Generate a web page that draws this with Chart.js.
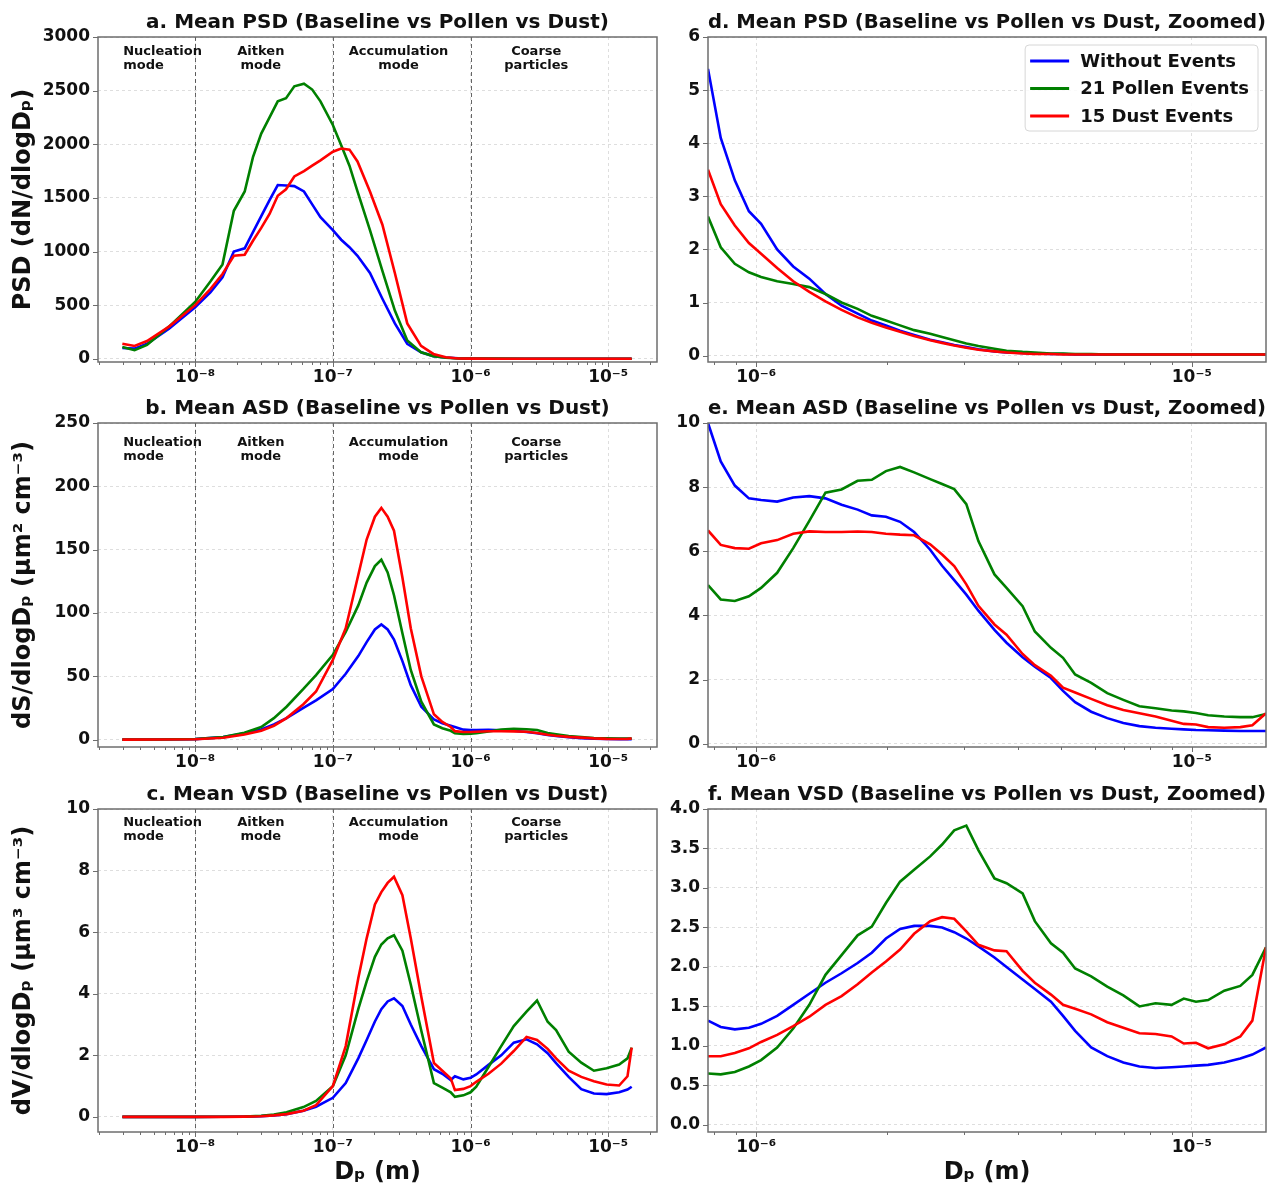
<!DOCTYPE html>
<html>
<head>
<meta charset="utf-8">
<script src="https://cdn.jsdelivr.net/npm/chart.js@4.4.1/dist/chart.umd.min.js"></script>
<style>
  body { margin: 0; background: #fff; }
  #quadro { position: relative; width: 1271px; height: 1187px; overflow: hidden; }
  #quadro canvas { position: absolute; }
</style>
</head>
<body>
<div id="quadro">
  <canvas id="graficoPsd" width="660" height="392" style="left:0;top:0"></canvas>
  <canvas id="graficoPsdZoom" width="611" height="392" style="left:660px;top:0"></canvas>
  <canvas id="graficoAsd" width="660" height="392" style="left:0;top:386px"></canvas>
  <canvas id="graficoAsdZoom" width="611" height="392" style="left:660px;top:386px"></canvas>
  <canvas id="graficoVsd" width="660" height="415" style="left:0;top:772px"></canvas>
  <canvas id="graficoVsdZoom" width="611" height="415" style="left:660px;top:772px"></canvas>
</div>
<script>
const FONTE = "'DejaVu Sans', sans-serif";
Chart.defaults.font.family = FONTE;
Chart.defaults.color = "#000";

const nomesSeries = ["Without Events", "21 Pollen Events", "15 Dust Events"];
const coresSeries = ["#0000ff", "#008000", "#ff0000"];

const expoentes = [-8, -7, -6, -5];
const rotulosDecadas = ["10⁻⁸", "10⁻⁷", "10⁻⁶", "10⁻⁵"];

const modos = [["Nucleation", "mode"], ["Aitken", "mode"], ["Accumulation", "mode"], ["Coarse", "particles"]];
const modosX = [3e-9, 3e-8, 3e-7, 3e-6];
const alinhamentoModos = ["left", "center", "center", "center"];
const limitesModos = [1e-8, 1e-7, 1e-6];

// diametros (m) do painel a
const dpPsd = [
  2.96e-9, 3.63e-9, 4.47e-9, 6.46e-9, 1.0e-8, 1.29e-8, 1.58e-8, 1.91e-8, 2.29e-8, 2.63e-8,
  3.02e-8, 3.47e-8, 3.98e-8, 4.57e-8, 5.25e-8, 6.17e-8, 7.08e-8, 8.13e-8, 1.0e-7, 1.15e-7,
  1.32e-7, 1.51e-7, 1.86e-7, 2.29e-7, 2.82e-7, 3.47e-7, 4.37e-7, 5.37e-7, 6.61e-7, 8.13e-7,
  1.0e-6, 1.58e-6, 2.51e-6, 3.98e-6, 6.31e-6, 1.0e-5, 1.48e-5,
];
const psdSem = [
  100, 95, 140, 280, 480, 620, 760, 1000, 1030, 1180,
  1330, 1480, 1620, 1615, 1610, 1560, 1440, 1320, 1200, 1110,
  1040, 960, 800, 560, 330, 140, 60, 25, 12, 4.5,
  2.5, 0.9, 0.3, 0.06, 0.02, 0.02, 0.02,
];
const psdPolen = [
  110, 80, 130, 300, 530, 720, 880, 1380, 1560, 1880,
  2100, 2250, 2400, 2430, 2540, 2565, 2510, 2400, 2180, 1990,
  1800, 1560, 1200, 820, 450, 170, 60, 25, 10, 2.2,
  1.5, 1.0, 0.45, 0.1, 0.03, 0.02, 0.02,
];
const psdPoeira = [
  140, 120, 165, 300, 500, 650, 790, 960, 970, 1100,
  1220, 1350, 1520, 1580, 1700, 1750, 1800, 1850, 1930, 1960,
  1950, 1840, 1560, 1250, 800, 330, 120, 45, 15, 3.0,
  1.9, 0.85, 0.3, 0.06, 0.02, 0.02, 0.02,
];

// diametros (m) dos paineis b e c
const dpTotal = [
  2.96e-9, 5.57e-9, 1.0e-8, 1.6e-8, 2.28e-8, 3.02e-8, 3.73e-8, 4.61e-8, 6.11e-8, 7.55e-8,
  1.0e-7, 1.24e-7, 1.53e-7, 1.76e-7, 2.02e-7, 2.25e-7, 2.5e-7, 2.78e-7, 3.2e-7, 3.68e-7,
  4.39e-7, 5.42e-7, 6.24e-7, 7.18e-7, 7.7e-7, 8.87e-7, 1.0e-6, 1.1e-6, 1.35e-6, 1.67e-6,
  2.06e-6, 2.55e-6, 3.04e-6, 3.63e-6, 4.18e-6, 5.16e-6, 6.37e-6, 7.87e-6, 9.73e-6, 1.2e-5,
  1.38e-5, 1.48e-5,
];
const asdSem = [
  0, 0.1, 0.4, 2, 5, 8, 12, 17, 25, 31,
  40, 52, 66, 77, 87, 91, 87, 79, 62, 43,
  26, 16, 13, 11, 10, 7.9, 7.6, 7.6, 7.7, 7.4,
  7.0, 6.1, 5.0, 3.8, 3.0, 2.0, 1.2, 0.7, 0.5, 0.45,
  0.42, 0.42,
];
const asdPolen = [
  0, 0.1, 0.5, 2, 5.5, 10, 17, 26, 40, 51,
  67, 85, 106, 124, 137, 142, 132, 114, 84, 55,
  30, 12, 9, 7, 5, 4.5, 4.7, 5.0, 6.5, 8.0,
  8.6, 8.2, 7.6, 5.2, 4.3, 2.8, 2.0, 1.3, 1.05, 0.9,
  0.85, 0.9,
];
const asdPoeira = [
  0, 0.1, 0.3, 1.5, 4, 7, 11, 17, 28, 38,
  63, 88, 130, 158, 176, 183, 176, 165, 128, 88,
  50, 20, 14, 10, 6.7, 6.1, 6.1, 6.3, 6.6, 6.6,
  6.5, 6.3, 5.2, 3.9, 3.1, 2.2, 1.6, 1.0, 0.65, 0.55,
  0.6, 0.95,
];
const vsdSem = [
  0, 0, 0, 0.003, 0.01, 0.025, 0.05, 0.09, 0.2, 0.33,
  0.62, 1.1, 1.9, 2.5, 3.1, 3.5, 3.75, 3.85, 3.6, 3.0,
  2.3, 1.55, 1.4, 1.2, 1.32, 1.22, 1.27, 1.38, 1.69, 2.0,
  2.41, 2.52, 2.36, 2.07, 1.75, 1.3, 0.9, 0.76, 0.74, 0.8,
  0.89, 0.98,
];
const vsdPolen = [
  0, 0, 0, 0.003, 0.015, 0.04, 0.08, 0.15, 0.32, 0.52,
  1.0, 2.0, 3.5, 4.4, 5.2, 5.6, 5.8, 5.9, 5.4, 4.3,
  2.8, 1.1, 0.95, 0.8, 0.65, 0.7, 0.8, 0.98, 1.62, 2.3,
  2.95, 3.42, 3.78, 3.09, 2.82, 2.12, 1.76, 1.5, 1.58, 1.7,
  1.9, 2.25,
];
const vsdPoeira = [
  0, 0, 0, 0.002, 0.01, 0.02, 0.05, 0.09, 0.2, 0.38,
  1.0, 2.3, 4.5, 5.8, 6.9, 7.3, 7.6, 7.8, 7.2, 5.8,
  3.9, 1.75, 1.5, 1.25, 0.87, 0.91, 1.0, 1.14, 1.4, 1.73,
  2.14, 2.6, 2.5, 2.21, 1.9, 1.5, 1.3, 1.16, 1.05, 1.02,
  1.32, 2.25,
];

// diametros (m) dos paineis com zoom (d, e, f)
const dpZoom = [
  7.75e-7, 8.29e-7, 8.93e-7, 9.62e-7, 1.026e-6, 1.117e-6, 1.216e-6, 1.324e-6, 1.442e-6, 1.57e-6,
  1.709e-6, 1.842e-6, 1.985e-6, 2.139e-6, 2.304e-6, 2.508e-6, 2.671e-6, 2.848e-6, 3.036e-6, 3.236e-6,
  3.523e-6, 3.755e-6, 4.088e-6, 4.361e-6, 4.749e-6, 5.062e-6, 5.396e-6, 5.874e-6, 6.395e-6, 6.962e-6,
  7.58e-6, 8.253e-6, 8.986e-6, 9.583e-6, 1.022e-5, 1.09e-5, 1.187e-5, 1.292e-5, 1.377e-5, 1.48e-5,
];
const psdZoomSem = [
  5.4, 4.1, 3.3, 2.72, 2.48, 2.0, 1.68, 1.45, 1.16, 0.94,
  0.79, 0.66, 0.57, 0.47, 0.39, 0.3, 0.25, 0.2, 0.16, 0.12,
  0.08, 0.06, 0.05, 0.04, 0.03, 0.03, 0.02, 0.02, 0.02, 0.02,
  0.02, 0.02, 0.02, 0.02, 0.02, 0.02, 0.02, 0.02, 0.02, 0.02,
];
const psdZoomPolen = [
  2.62, 2.04, 1.73, 1.57, 1.48, 1.4, 1.35, 1.29, 1.16, 1.0,
  0.88, 0.75, 0.66, 0.57, 0.48, 0.41, 0.35, 0.29, 0.23, 0.18,
  0.13, 0.09, 0.07, 0.06, 0.04, 0.04, 0.03, 0.03, 0.02, 0.02,
  0.02, 0.02, 0.02, 0.02, 0.02, 0.02, 0.02, 0.02, 0.02, 0.02,
];
const psdZoomPoeira = [
  3.5, 2.85, 2.45, 2.12, 1.92, 1.65, 1.4, 1.2, 1.02, 0.86,
  0.72, 0.62, 0.53, 0.45, 0.37, 0.29, 0.24, 0.19, 0.15, 0.11,
  0.08, 0.06, 0.04, 0.03, 0.03, 0.02, 0.02, 0.02, 0.02, 0.02,
  0.02, 0.02, 0.02, 0.02, 0.02, 0.02, 0.02, 0.02, 0.02, 0.02,
];
const asdZoomSem = [
  10.0, 8.8, 8.05, 7.65, 7.6, 7.55, 7.68, 7.72, 7.65, 7.45,
  7.3, 7.12, 7.08, 6.92, 6.6, 6.05, 5.55, 5.1, 4.65, 4.15,
  3.55, 3.15, 2.7, 2.4, 2.05, 1.65, 1.3, 1.0, 0.8, 0.65,
  0.55, 0.5, 0.47, 0.45, 0.43, 0.42, 0.41, 0.4, 0.4, 0.4,
];
const asdZoomPolen = [
  4.95, 4.5, 4.45, 4.6, 4.86, 5.33, 6.1, 6.95, 7.83, 7.93,
  8.2, 8.23, 8.5, 8.63, 8.46, 8.25, 8.1, 7.94, 7.47, 6.32,
  5.28, 4.86, 4.29, 3.5, 2.99, 2.68, 2.16, 1.9, 1.58, 1.37,
  1.17, 1.11, 1.04, 1.01, 0.96, 0.89, 0.85, 0.83, 0.83, 0.93,
];
const asdZoomPoeira = [
  6.65, 6.2, 6.1, 6.08, 6.25, 6.35, 6.55, 6.62, 6.6, 6.6,
  6.62, 6.6, 6.55, 6.52, 6.5, 6.22, 5.9, 5.54, 4.97, 4.3,
  3.72, 3.4, 2.8, 2.45, 2.12, 1.75, 1.6, 1.4, 1.2, 1.05,
  0.95, 0.85, 0.72, 0.62, 0.6, 0.52, 0.5, 0.52, 0.58, 0.95,
];
const vsdZoomSem = [
  1.32, 1.24, 1.21, 1.23, 1.28, 1.38, 1.52, 1.66, 1.8, 1.92,
  2.05, 2.18, 2.36, 2.48, 2.52, 2.52, 2.5, 2.44, 2.36, 2.26,
  2.12, 2.0, 1.84, 1.72, 1.56, 1.38, 1.19, 0.98, 0.87, 0.79,
  0.74, 0.72, 0.73, 0.74, 0.75, 0.76, 0.79, 0.84, 0.89, 0.98,
];
const vsdZoomPolen = [
  0.65, 0.64, 0.67, 0.74, 0.82, 0.98, 1.22, 1.52, 1.9, 2.15,
  2.4, 2.51, 2.81, 3.08, 3.23, 3.4, 3.55, 3.73, 3.79, 3.48,
  3.12, 3.06, 2.93, 2.58, 2.3, 2.18, 1.98, 1.88, 1.75, 1.64,
  1.5, 1.54, 1.52, 1.6, 1.56, 1.58, 1.7, 1.76, 1.9, 2.25,
];
const vsdZoomPoeira = [
  0.87, 0.87, 0.91, 0.97, 1.05, 1.14, 1.25, 1.37, 1.52, 1.63,
  1.78, 1.93, 2.07, 2.22, 2.42, 2.58, 2.63, 2.61, 2.45, 2.28,
  2.21, 2.2, 1.95, 1.8, 1.65, 1.52, 1.47, 1.4, 1.3, 1.23,
  1.16, 1.15, 1.12, 1.03, 1.04, 0.97, 1.02, 1.12, 1.32, 2.25,
];

const ticksPsd = [0, 500, 1000, 1500, 2000, 2500, 3000];
const ticksAsd = [0, 50, 100, 150, 200, 250];
const ticksVsd = [0, 2, 4, 6, 8, 10];
const ticksPsdZoom = [0, 1, 2, 3, 4, 5, 6];
const ticksAsdZoom = [0, 2, 4, 6, 8, 10];
const ticksVsdZoom = [0, 0.5, 1, 1.5, 2, 2.5, 3, 3.5, 4];

const COR_GRADE = "rgba(0,0,0,0.13)";
const COR_EIXO = "#6e6e6e";

function ehDecada(v) {
  const l = Math.log10(v);
  return Math.abs(l - Math.round(l)) < 1e-6;
}

function ticksLog(min, max) {
  const ticks = [];
  for (let e = Math.floor(Math.log10(min)); e <= Math.ceil(Math.log10(max)); e++) {
    for (let m = 1; m <= 9; m++) {
      const v = m * Math.pow(10, e);
      if (v >= min && v <= max) ticks.push({ value: v, major: m === 1 });
    }
  }
  return ticks;
}

function rotuloDecada(v) {
  if (!ehDecada(v)) return "";
  const i = expoentes.indexOf(Math.round(Math.log10(v)));
  return i >= 0 ? rotulosDecadas[i] : "";
}

const decorPlugin = {
  id: "decor",
  beforeDatasetsDraw(chart, args, opts) {
    if (!opts.modos) return;
    const { ctx, chartArea: a, scales: { x } } = chart;
    ctx.save();
    ctx.strokeStyle = "rgba(0,0,0,0.6)";
    ctx.lineWidth = 1;
    ctx.setLineDash([4, 3]);
    limitesModos.forEach((b) => {
      const px = Math.round(x.getPixelForValue(b)) + 0.5;
      ctx.beginPath();
      ctx.moveTo(px, a.top);
      ctx.lineTo(px, a.bottom);
      ctx.stroke();
    });
    ctx.restore();
  },
  afterDraw(chart, args, opts) {
    const { ctx, chartArea: a, scales: { x, y } } = chart;
    ctx.save();

    // marcas dos eixos
    ctx.strokeStyle = COR_EIXO;
    ctx.lineWidth = 1;
    x.ticks.forEach((t) => {
      const px = Math.round(x.getPixelForValue(t.value)) + 0.5;
      const len = ehDecada(t.value) ? 5 : 3;
      ctx.beginPath();
      ctx.moveTo(px, a.bottom);
      ctx.lineTo(px, a.bottom + len);
      ctx.stroke();
    });
    y.ticks.forEach((t) => {
      const py = Math.round(y.getPixelForValue(t.value)) + 0.5;
      ctx.beginPath();
      ctx.moveTo(a.left - 5, py);
      ctx.lineTo(a.left, py);
      ctx.stroke();
    });

    // moldura
    ctx.lineWidth = 1.5;
    ctx.strokeRect(a.left, a.top, a.right - a.left, a.bottom - a.top);

    if (opts.modos) {
      ctx.fillStyle = "#111";
      ctx.font = "bold 13px " + FONTE;
      ctx.textBaseline = "middle";
      modos.forEach((linhas, i) => {
        const px = x.getPixelForValue(modosX[i]);
        ctx.textAlign = alinhamentoModos[i];
        linhas.forEach((t, j) => ctx.fillText(t, px, a.top + opts.topoModos + j * 14));
      });
    }

    if (opts.legenda) {
      ctx.font = "bold 18px " + FONTE;
      const larg = 55 + Math.max(...nomesSeries.map((n) => ctx.measureText(n).width)) + 9;
      const alt = 86;
      const esq = a.right - 8 - larg;
      const topo = a.top + 8;
      const r = 4;
      ctx.beginPath();
      ctx.moveTo(esq + r, topo);
      ctx.arcTo(esq + larg, topo, esq + larg, topo + alt, r);
      ctx.arcTo(esq + larg, topo + alt, esq, topo + alt, r);
      ctx.arcTo(esq, topo + alt, esq, topo, r);
      ctx.arcTo(esq, topo, esq + larg, topo, r);
      ctx.closePath();
      ctx.fillStyle = "rgba(255,255,255,0.85)";
      ctx.fill();
      ctx.strokeStyle = "#d6d6d6";
      ctx.lineWidth = 1;
      ctx.stroke();
      ctx.textAlign = "left";
      ctx.textBaseline = "middle";
      nomesSeries.forEach((n, i) => {
        const yy = topo + 16 + i * 27.5;
        ctx.strokeStyle = coresSeries[i];
        ctx.lineWidth = 3;
        ctx.beginPath();
        ctx.moveTo(esq + 5, yy);
        ctx.lineTo(esq + 44, yy);
        ctx.stroke();
        ctx.fillStyle = "#111";
        ctx.fillText(n, esq + 55, yy + 1);
      });
    }
    ctx.restore();
  },
};
Chart.register(decorPlugin);

function criarPainel(id, cfg) {
  const datasets = cfg.valores.map((vals, i) => ({
    label: nomesSeries[i],
    data: vals.map((v, k) => ({ x: cfg.dp[k], y: v })),
    borderColor: coresSeries[i],
    backgroundColor: coresSeries[i],
    borderWidth: 2.6,
    pointRadius: 0,
    tension: 0,
    order: 3 - i,
  }));

  const fonteTick = { family: FONTE, size: 17, weight: "bold" };
  const fonteTitulo = { family: FONTE, size: 24, weight: "bold", lineHeight: 1.2 };

  return new Chart(document.getElementById(id), {
    type: "line",
    data: { datasets },
    options: {
      responsive: false,
      devicePixelRatio: 1,
      animation: false,
      events: [],
      layout: { padding: { left: 0, right: cfg.folgaDireita, top: 0, bottom: 0 } },
      plugins: {
        legend: { display: false },
        tooltip: { enabled: false },
        title: {
          display: true,
          text: cfg.titulo,
          fullSize: false,
          color: "#111",
          font: { family: FONTE, size: 20, weight: "bold", lineHeight: 1.2 },
          padding: { top: 11, bottom: 2 },
        },
        decor: { modos: !!cfg.modos, topoModos: cfg.topoModos, legenda: !!cfg.legenda },
      },
      scales: {
        x: {
          type: "logarithmic",
          bounds: "data",
          min: cfg.xMin,
          max: cfg.xMax,
          afterBuildTicks: (s) => { s.ticks = ticksLog(s.min, s.max); },
          afterFit: (s) => { s.height = cfg.alturaX; },
          ticks: {
            autoSkip: false,
            maxRotation: 0,
            minRotation: 0,
            padding: 5,
            color: "#111",
            font: fonteTick,
            callback: (v) => rotuloDecada(v),
          },
          grid: {
            drawTicks: false,
            lineWidth: 1,
            color: (c) => (c.tick && ehDecada(c.tick.value) ? COR_GRADE : "rgba(0,0,0,0)"),
          },
          border: { display: false, dash: [3, 3] },
          title: {
            display: !!cfg.tituloX,
            text: cfg.tituloX || "",
            color: "#111",
            font: fonteTitulo,
            padding: { top: 0, bottom: 0 },
          },
        },
        y: {
          type: "linear",
          min: cfg.yMin,
          max: cfg.yMax,
          afterBuildTicks: (s) => { s.ticks = cfg.ticksY.map((v) => ({ value: v })); },
          afterFit: (s) => { s.width = cfg.larguraY; },
          ticks: {
            padding: 8,
            color: "#111",
            font: fonteTick,
            callback: (v) => (cfg.decimais ? v.toFixed(cfg.decimais) : String(v)),
          },
          grid: { drawTicks: false, lineWidth: 1, color: COR_GRADE },
          border: { display: false, dash: [3, 3] },
          title: {
            display: !!cfg.tituloY,
            text: cfg.tituloY || "",
            color: "#111",
            font: fonteTitulo,
            padding: { top: 9, bottom: 0 },
          },
        },
      },
    },
  });
}

const esquerda = { xMin: 1.97e-9, xMax: 2.26e-5, larguraY: 98, folgaDireita: 3, modos: true };
const direita = { xMin: 7.75e-7, xMax: 1.48e-5, larguraY: 48, folgaDireita: 5 };

criarPainel("graficoPsd", {
  ...esquerda,
  titulo: "a. Mean PSD (Baseline vs Pollen vs Dust)",
  dp: dpPsd,
  valores: [psdSem, psdPolen, psdPoeira],
  yMin: -30, yMax: 3000, ticksY: ticksPsd,
  tituloY: "PSD (dN/dlogDₚ)",
  alturaX: 30, topoModos: 15,
});
criarPainel("graficoPsdZoom", {
  ...direita,
  titulo: "d. Mean PSD (Baseline vs Pollen vs Dust, Zoomed)",
  dp: dpZoom,
  valores: [psdZoomSem, psdZoomPolen, psdZoomPoeira],
  yMin: -0.12, yMax: 6, ticksY: ticksPsdZoom,
  alturaX: 30, legenda: true,
});
criarPainel("graficoAsd", {
  ...esquerda,
  titulo: "b. Mean ASD (Baseline vs Pollen vs Dust)",
  dp: dpTotal,
  valores: [asdSem, asdPolen, asdPoeira],
  yMin: -5.8, yMax: 250, ticksY: ticksAsd,
  tituloY: "dS/dlogDₚ (μm² cm⁻³)",
  alturaX: 31, topoModos: 20,
});
criarPainel("graficoAsdZoom", {
  ...direita,
  titulo: "e. Mean ASD (Baseline vs Pollen vs Dust, Zoomed)",
  dp: dpZoom,
  valores: [asdZoomSem, asdZoomPolen, asdZoomPoeira],
  yMin: -0.1, yMax: 10, ticksY: ticksAsdZoom,
  alturaX: 31,
});
criarPainel("graficoVsd", {
  ...esquerda,
  titulo: "c. Mean VSD (Baseline vs Pollen vs Dust)",
  dp: dpTotal,
  valores: [vsdSem, vsdPolen, vsdPoeira],
  yMin: -0.49, yMax: 10, ticksY: ticksVsd,
  tituloY: "dV/dlogDₚ (μm³ cm⁻³)",
  tituloX: "Dₚ (m)",
  alturaX: 55, topoModos: 14,
});
criarPainel("graficoVsdZoom", {
  ...direita,
  titulo: "f. Mean VSD (Baseline vs Pollen vs Dust, Zoomed)",
  dp: dpZoom,
  valores: [vsdZoomSem, vsdZoomPolen, vsdZoomPoeira],
  yMin: -0.09, yMax: 4, ticksY: ticksVsdZoom, decimais: 1,
  tituloX: "Dₚ (m)",
  alturaX: 55,
});
</script>
</body>
</html>
